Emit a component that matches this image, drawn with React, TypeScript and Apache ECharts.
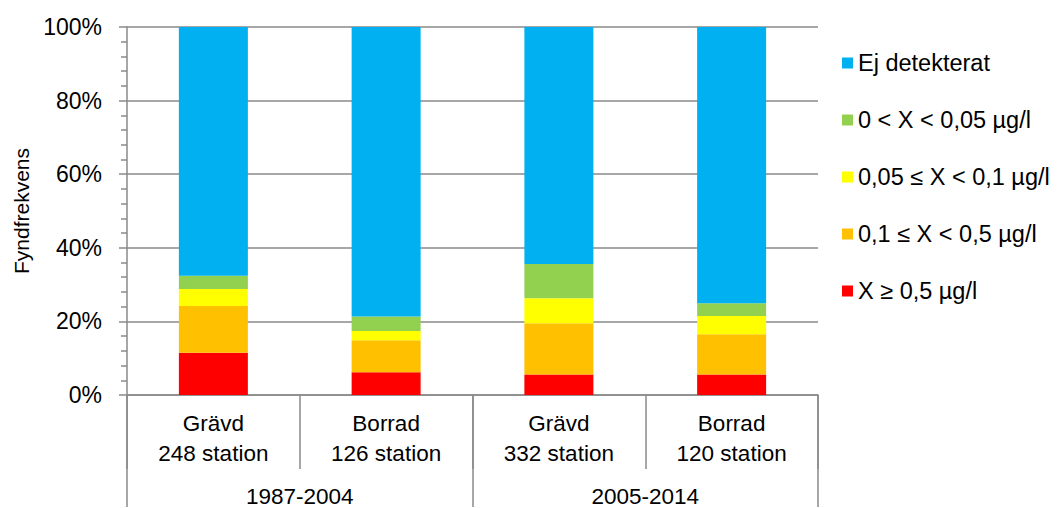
import React, { useEffect, useRef } from "react";
import * as echarts from "echarts";

const categories = ["Grävd\n248 station", "Borrad\n126 station", "Grävd\n332 station", "Borrad\n120 station"];
const periods = ["1987-2004", "2005-2014"];
const seriesNames = ["X ≥ 0,5 µg/l", "0,1 ≤ X < 0,5 µg/l", "0,05 ≤ X < 0,1 µg/l", "0 < X < 0,05 µg/l", "Ej detekterat"];
const red = [11.5, 6.2, 5.6, 5.6];
const orange = [12.7, 8.7, 13.9, 10.9];
const yellow = [4.6, 2.5, 6.8, 5.0];
const green = [3.6, 3.9, 9.3, 3.4];
const blue = [67.6, 78.7, 64.4, 75.1];
const colors = ["#FF0000", "#FFC000", "#FFFF00", "#92D050", "#00B0F0"];
const yTicks = [0, 20, 40, 60, 80, 100];

const FONT = "Liberation Sans, Arial, sans-serif";
const GRAY = "#8a8a8a";

export default function App() {
  const ref = useRef<HTMLDivElement>(null);
  useEffect(() => {
    if (!ref.current) return;
    const chart = echarts.init(ref.current, null, { renderer: "svg" });
    const data = [red, orange, yellow, green, blue];
    chart.setOption({
      animation: false,
      textStyle: { fontFamily: FONT, color: "#000" },
      grid: { left: 127, right: 242, top: 27, bottom: 112, containLabel: false },
      legend: {
        orient: "vertical",
        left: 837,
        top: 46,
        itemWidth: 11,
        itemHeight: 11,
        itemGap: 33,
        icon: "rect",
        data: [...seriesNames].reverse(),
        textStyle: { fontSize: 23.5, fontFamily: FONT, color: "#000", padding: [0, 0, 0, 0] },
      },
      xAxis: [
        {
          type: "category",
          data: categories,
          position: "bottom",
          axisLine: { show: true, lineStyle: { color: GRAY, width: 1.5 } },
          axisTick: { show: true, length: 74, alignWithLabel: false, lineStyle: { color: GRAY, width: 1.5 } },
          axisLabel: { fontSize: 22.5, fontFamily: FONT, color: "#000", lineHeight: 30, margin: 13 },
        },
        {
          type: "category",
          data: periods,
          position: "bottom",
          axisLine: { show: false },
          axisTick: { show: true, length: 112, alignWithLabel: false, lineStyle: { color: GRAY, width: 1.5 } },
          axisLabel: { fontSize: 22.5, fontFamily: FONT, color: "#000", margin: 90 },
        },
      ],
      yAxis: {
        type: "value",
        min: 0,
        max: 100,
        interval: 20,
        name: "Fyndfrekvens",
        nameLocation: "middle",
        nameGap: 93,
        nameTextStyle: { fontSize: 21, fontFamily: FONT, color: "#000" },
        axisLine: { show: true, lineStyle: { color: GRAY, width: 1.5 } },
        axisTick: { show: true, length: 8, lineStyle: { color: GRAY, width: 1.5 } },
        minorTick: { show: true, splitNumber: 5, length: 6, lineStyle: { color: GRAY, width: 1.5 } },
        splitLine: { show: true, lineStyle: { color: GRAY, width: 1.5 } },
        axisLabel: {
          fontSize: 23,
          fontFamily: FONT,
          color: "#000",
          margin: 25,
          formatter: (v: number) => (yTicks.includes(v) ? v + "%" : ""),
        },
      },
      series: seriesNames.map((name, i) => ({
        name,
        type: "bar",
        stack: "total",
        xAxisIndex: 0,
        barWidth: 69,
        data: data[i],
        itemStyle: { color: colors[i] },
      })),
    });
    return () => chart.dispose();
  }, []);
  return <div ref={ref} style={{ width: 1060, height: 508, position: "absolute", left: 0, top: 0 }} />;
}
